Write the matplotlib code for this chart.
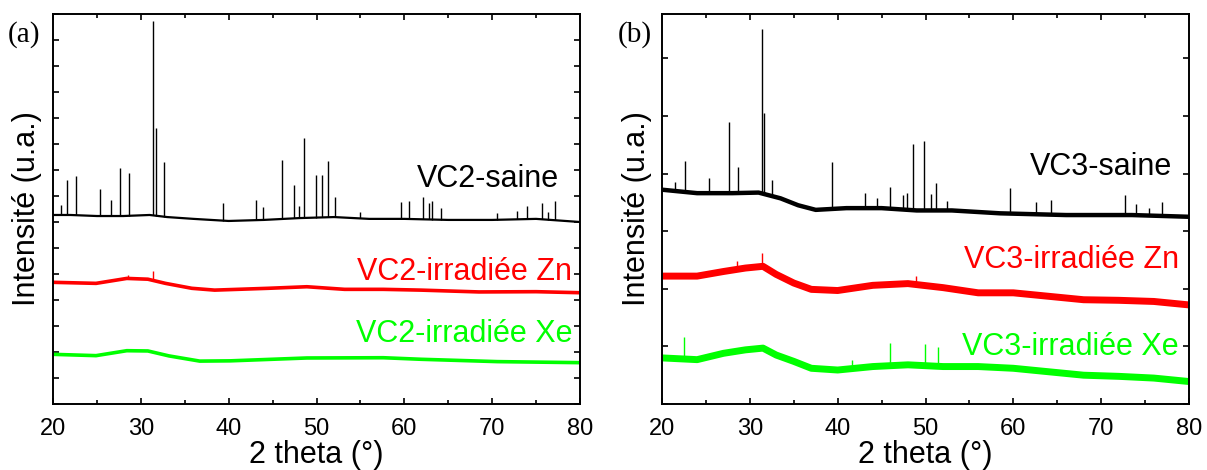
import numpy as np
import matplotlib
matplotlib.use("Agg")
import matplotlib.pyplot as plt
from matplotlib.ticker import MultipleLocator

plt.rcParams['font.family'] = ['Liberation Sans', 'DejaVu Sans']


######################## data (a) ########################

vc2_saine_x = [20, 22, 25, 28, 31, 33, 36, 40, 44, 48, 52, 56, 60, 65, 70, 75, 80]
vc2_saine_y = [7.27, 7.27, 7.23, 7.23, 7.27, 7.19, 7.12, 7.04, 7.08, 7.15, 7.19, 7.12,
               7.12, 7.08, 7.08, 7.12, 7.0]
vc2_saine_peaks = [20.9, 21.56, 22.6, 25.4, 26.6, 27.6, 28.6, 31.35, 31.7, 32.6, 39.3,
                   43.1, 43.9, 46.05, 47.4, 48.05, 48.6, 49.9, 50.6, 51.35, 52.1, 55.0,
                   59.6, 60.5, 62.1, 62.8, 63.1, 64.2, 70.5, 72.8, 74.0, 75.7, 76.3, 77.1]
vc2_saine_heights = [0.38, 1.35, 1.5, 1.04, 0.62, 1.85, 1.65, 7.46, 3.38, 2.12, 0.69,
                     0.77, 0.5, 2.27, 1.27, 0.46, 3.08, 1.62, 1.65, 2.15, 0.77, 0.23,
                     0.65, 0.69, 0.85, 0.65, 0.73, 0.46, 0.25, 0.31, 0.5, 0.62, 0.3, 0.73]

vc2_zn_x = [20, 24.9, 28.4, 30.8, 32.8, 35.8, 38.4, 44.5, 48.9, 53.2, 57.6, 61.9, 68.5, 75, 80]
vc2_zn_y = [4.68, 4.64, 4.83, 4.80, 4.64, 4.45, 4.38, 4.45, 4.51, 4.41, 4.41, 4.38, 4.31,
            4.32, 4.28]
vc2_zn_peaks = [28.5, 31.4]
vc2_zn_heights = [0.15, 0.38]

vc2_xe_x = [20, 24.9, 28.4, 30.8, 33.2, 36.7, 40.2, 48.9, 57.6, 61.9, 70.6, 80]
vc2_xe_y = [1.91, 1.86, 2.05, 2.04, 1.85, 1.65, 1.66, 1.77, 1.78, 1.72, 1.63, 1.59]


######################## data (b) ########################

vc3_saine_x = [20, 24, 28, 31, 33.5, 35.5, 37.5, 41, 45, 49, 53, 58.5, 66, 73.5, 80]
vc3_saine_y = [3.72, 3.66, 3.66, 3.67, 3.57, 3.45, 3.37, 3.40, 3.40, 3.36, 3.36, 3.31,
               3.28, 3.28, 3.25]
vc3_saine_peaks = [21.45, 22.6, 25.4, 27.6, 28.6, 31.35, 31.65, 32.5, 39.3, 43.1, 44.5,
                   46.0, 47.4, 47.95, 48.6, 49.8, 50.6, 51.25, 52.4, 59.6, 62.6, 64.3,
                   72.7, 74.0, 75.5, 76.9]
vc3_saine_heights = [0.15, 0.54, 0.27, 1.23, 0.45, 2.85, 1.4, 0.28, 0.82, 0.26, 0.17,
                     0.37, 0.26, 0.3, 1.15, 1.2, 0.28, 0.47, 0.17, 0.45, 0.22, 0.26,
                     0.35, 0.2, 0.14, 0.24]

vc3_x = [20, 24, 27, 29.5, 31.5, 33, 35, 37, 40, 44, 48, 52, 56, 60, 64, 68, 72, 76, 80]
vc3_zn_y = [2.22, 2.22, 2.30, 2.36, 2.39, 2.25, 2.10, 1.99, 1.97, 2.06, 2.09, 2.02, 1.93,
            1.93, 1.87, 1.81, 1.80, 1.78, 1.72]
vc3_zn_peaks = [28.5, 31.4, 48.9]
vc3_zn_heights = [0.15, 0.23, 0.15]

vc3_xe_y = [0.80, 0.77, 0.88, 0.94, 0.97, 0.85, 0.74, 0.62, 0.59, 0.65, 0.68, 0.65, 0.65,
            0.62, 0.56, 0.50, 0.48, 0.45, 0.39]
vc3_xe_peaks = [22.5, 41.6, 46.0, 49.9, 51.4]
vc3_xe_heights = [0.38, 0.15, 0.39, 0.37, 0.33]

RED = "#ff0000"
GREEN = "#00ff00"


######################## drawing ########################


def draw_pattern(ax, x, y, color, lw, peaks=None, heights=None):
    ax.plot(x, y, color=color, lw=lw, solid_joinstyle="round", solid_capstyle="butt")
    if peaks:
        foot = np.interp(peaks, x, y)
        ax.vlines(peaks, foot, foot + np.array(heights), color=color, lw=1.0)


def style_axes(ax, ymax, ylabel_x):
    ax.set_xlim(20, 80)
    ax.set_ylim(0, ymax)
    ax.xaxis.set_major_locator(MultipleLocator(10))
    ax.xaxis.set_minor_locator(MultipleLocator(5))
    ax.yaxis.set_major_locator(MultipleLocator(1))
    ax.set_yticklabels([])
    ax.tick_params(which="both", direction="in", top=True, right=True, width=1.2)
    ax.tick_params(which="major", length=4.5, labelsize=17, pad=10)
    ax.tick_params(which="minor", length=3)
    for s in ax.spines.values():
        s.set_linewidth(1.4)
    ax.set_xlabel("2 theta (°)", fontsize=22, labelpad=0)
    ax.set_ylabel("Intensité (u.a.)", fontsize=22)
    ax.yaxis.set_label_coords(ylabel_x, 0.5)


fig = plt.figure(figsize=(12.07, 4.70), dpi=100)
ax_a = fig.add_axes([53 / 1207, 66 / 470, 527 / 1207, 390 / 470])
ax_b = fig.add_axes([662 / 1207, 66 / 470, 527 / 1207, 390 / 470])

# (a)
draw_pattern(ax_a, vc2_saine_x, vc2_saine_y, "black", 1.6, vc2_saine_peaks, vc2_saine_heights)
draw_pattern(ax_a, vc2_zn_x, vc2_zn_y, RED, 2.6, vc2_zn_peaks, vc2_zn_heights)
draw_pattern(ax_a, vc2_xe_x, vc2_xe_y, GREEN, 2.6)
style_axes(ax_a, 15, -0.021)
ax_a.text(0.96, 0.556, "VC2-saine", transform=ax_a.transAxes, ha="right", va="baseline",
          fontsize=22, color="black")
ax_a.text(0.985, 0.318, "VC2-irradiée Zn", transform=ax_a.transAxes, ha="right",
          va="baseline", fontsize=22, color=RED)
ax_a.text(0.985, 0.159, "VC2-irradiée Xe", transform=ax_a.transAxes, ha="right",
          va="baseline", fontsize=22, color=GREEN)
fig.text(8 / 1207, 1 - 42 / 470, "(a)", family="Liberation Serif", fontsize=21)

# (b)
draw_pattern(ax_b, vc3_saine_x, vc3_saine_y, "black", 3.2, vc3_saine_peaks, vc3_saine_heights)
draw_pattern(ax_b, vc3_x, vc3_zn_y, RED, 5.0, vc3_zn_peaks, vc3_zn_heights)
draw_pattern(ax_b, vc3_x, vc3_xe_y, GREEN, 5.0, vc3_xe_peaks, vc3_xe_heights)
style_axes(ax_b, 6.77, -0.019)
ax_b.text(0.968, 0.587, "VC3-saine", transform=ax_b.transAxes, ha="right", va="baseline",
          fontsize=22, color="black")
ax_b.text(0.981, 0.349, "VC3-irradiée Zn", transform=ax_b.transAxes, ha="right",
          va="baseline", fontsize=22, color=RED)
ax_b.text(0.981, 0.126, "VC3-irradiée Xe", transform=ax_b.transAxes, ha="right",
          va="baseline", fontsize=22, color=GREEN)
fig.text(618 / 1207, 1 - 42 / 470, "(b)", family="Liberation Serif", fontsize=21)

plt.savefig("out.png", dpi=100)
